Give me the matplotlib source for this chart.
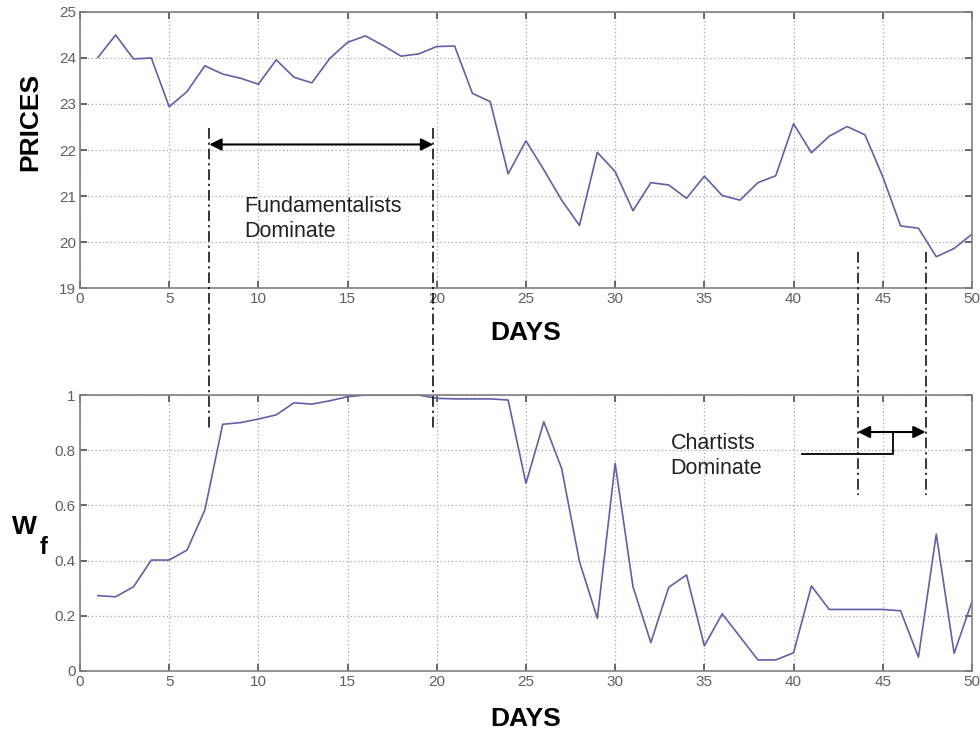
import matplotlib.pyplot as plt
import matplotlib.transforms as mtransforms
from matplotlib.lines import Line2D

plt.rcParams["font.family"] = ["Liberation Sans", "DejaVu Sans"]

# daily series, days 1..50
days = list(range(1, 51))
prices = [
    24.01, 24.50, 23.98, 24.00, 22.94, 23.27, 23.83, 23.65, 23.56, 23.43,
    23.96, 23.58, 23.46, 23.99, 24.34, 24.48, 24.27, 24.04, 24.09, 24.25,
    24.26, 23.23, 23.05, 21.48, 22.20, 21.57, 20.91, 20.36, 21.95, 21.53,
    20.68, 21.29, 21.24, 20.95, 21.43, 21.01, 20.91, 21.29, 21.44, 22.57,
    21.94, 22.30, 22.51, 22.33, 21.42, 20.35, 20.30, 19.68, 19.86, 20.17,
]
w_f = [
    0.273, 0.269, 0.305, 0.402, 0.402, 0.438, 0.583, 0.894, 0.900, 0.913,
    0.928, 0.972, 0.967, 0.979, 0.994, 1.000, 1.000, 1.000, 1.000, 0.988,
    0.986, 0.986, 0.986, 0.982, 0.680, 0.903, 0.734, 0.396, 0.191, 0.752,
    0.305, 0.103, 0.303, 0.348, 0.091, 0.207, 0.124, 0.040, 0.040, 0.066,
    0.308, 0.223, 0.223, 0.223, 0.223, 0.218, 0.050, 0.496, 0.064, 0.251,
]

x_ticks = [0, 5, 10, 15, 20, 25, 30, 35, 40, 45, 50]
price_ticks = [19, 20, 21, 22, 23, 24, 25]
wf_ticks = [0, 0.2, 0.4, 0.6, 0.8, 1]
wf_tick_labels = ["0", "0.2", "0.4", "0.6", "0.8", "1"]

# regime boundaries (in days)
fund_start, fund_end = 7.25, 19.8
chart_start, chart_end = 43.6, 47.4

line_color = "#6060aa"
spine_color = "#808080"

fig = plt.figure(figsize=(9.8, 7.31), dpi=100)
ax1 = fig.add_axes([0.0816, 0.606, 0.9102, 0.3776])
ax2 = fig.add_axes([0.0816, 0.0821, 0.9102, 0.3775])


def style_axes(ax):
    for sp in ax.spines.values():
        sp.set_color(spine_color)
        sp.set_linewidth(1.2)
    ax.tick_params(direction="in", length=5, width=1.2, color="#505050",
                   top=True, right=True, labelsize=11, labelcolor="#606060",
                   pad=3)
    ax.grid(True, color="#a8a8a8", linestyle=(0, (1, 2)), linewidth=0.9)
    ax.set_axisbelow(True)


ax1.plot(days, prices, color=line_color, linewidth=1.2)
ax1.set_xlim(0, 50)
ax1.set_ylim(19, 25)
ax1.set_xticks(x_ticks)
ax1.set_yticks(price_ticks)
style_axes(ax1)
ax1.set_ylabel("PRICES", fontsize=19, fontweight="bold")
ax1.yaxis.set_label_coords(-0.042, 0.60)
ax1.set_xlabel("DAYS", fontsize=19, fontweight="bold", labelpad=11)

ax2.plot(days, w_f, color=line_color, linewidth=1.2)
ax2.set_xlim(0, 50)
ax2.set_ylim(0, 1)
ax2.set_xticks(x_ticks)
ax2.set_yticks(wf_ticks)
ax2.set_yticklabels(wf_tick_labels)
style_axes(ax2)
ax2.set_xlabel("DAYS", fontsize=19, fontweight="bold", labelpad=13)
fig.text(0.012, 0.262, "W", fontsize=19, fontweight="bold", ha="left", va="bottom")
fig.text(0.040, 0.235, "f", fontsize=17, fontweight="bold", ha="left", va="bottom")

# regime markers spanning both panels: x in days, y in figure fraction
trans = mtransforms.blended_transform_factory(ax1.transData, fig.transFigure)
dashdot = (0, (7, 2.5, 1.5, 2.5))
for x in (fund_start, fund_end):
    fig.add_artist(Line2D([x, x], [0.825, 0.414], transform=trans,
                          color="black", linewidth=1.1, linestyle=dashdot))
for x in (chart_start, chart_end):
    fig.add_artist(Line2D([x, x], [0.655, 0.323], transform=trans,
                          color="black", linewidth=1.1, linestyle=dashdot))

arrow = dict(arrowstyle="<|-|>", color="black", lw=1.5, mutation_scale=18,
             shrinkA=0, shrinkB=0)
ax1.annotate("", xy=(fund_start, 22.12), xytext=(fund_end, 22.12),
             arrowprops=arrow)
ax1.text(9.2, 20.49, "Fundamentalists\nDominate", fontsize=15.5,
         color="#222222", ha="left", va="center", linespacing=1.25)

ax2.annotate("", xy=(chart_start, 0.866), xytext=(chart_end, 0.866),
             arrowprops=arrow)
ax2.plot([40.5, 45.6, 45.6], [0.788, 0.788, 0.866], color="black",
         linewidth=1.3, clip_on=False)
ax2.text(33.1, 0.778, "Chartists\nDominate", fontsize=15.5,
         color="#222222", ha="left", va="center", linespacing=1.25)

fig.savefig("out.png", dpi=100)
